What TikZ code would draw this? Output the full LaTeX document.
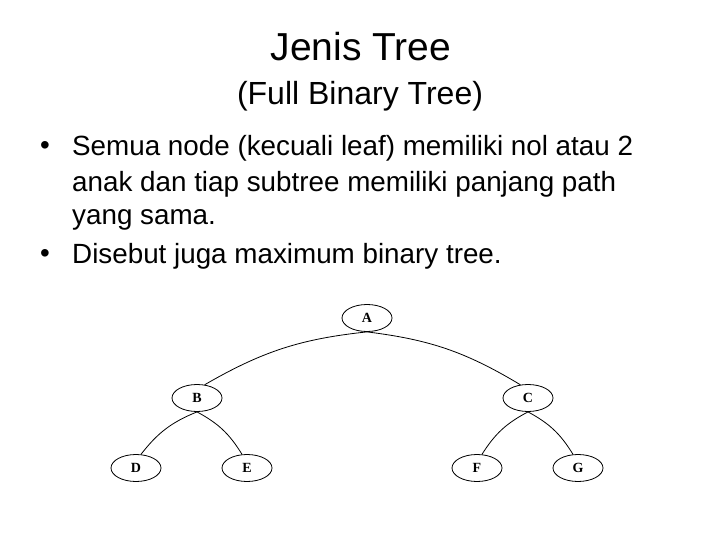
\documentclass[tikz,border=0pt]{standalone}
\usepackage{fontspec}
\setmainfont{Liberation Sans}
\newfontfamily\treefont{Liberation Serif}
\usetikzlibrary{shapes.geometric}
\begin{document}
\begin{tikzpicture}[x=1pt,y=-1pt,
  tn/.style={draw,ellipse,minimum width=50pt,minimum height=27pt,inner sep=0pt,font=\treefont\bfseries\fontsize{14}{16}\selectfont,line width=0.8pt},
  ed/.style={line width=0.8pt},
  txt/.style={anchor=west,inner sep=0pt,font=\fontsize{27.8}{32}\selectfont}]
\fill[white] (0,0) rectangle (720,540);
\useasboundingbox (0,0) rectangle (720,540);
\node[inner sep=0pt,font=\fontsize{39}{44}\selectfont] (title) at (361,47) {Jenis Tree};
\node[inner sep=0pt,font=\fontsize{32}{36}\selectfont] (sub) at (360,96) {(Full Binary Tree)};
\node[txt] (b1) at (40,148) {•};
\node[txt] (l1) at (72,148) {Semua node (kecuali leaf) memiliki nol atau 2};
\node[txt] (l2) at (72,184) {anak dan tiap subtree memiliki panjang path};
\node[txt] (l3) at (72,220) {yang sama.};
\node[txt] (b2) at (40,256) {•};
\node[txt] (l4) at (72,256) {Disebut juga maximum binary tree.};
\node[tn] (A) at (367,318) {A};
\node[tn] (B) at (197,398) {B};
\node[tn] (C) at (528,398) {C};
\node[tn] (D) at (136,468) {D};
\node[tn] (E) at (247,468) {E};
\node[tn] (F) at (477,468) {F};
\node[tn] (G) at (578,468) {G};
\draw[ed] (A.south) to[bend right=12] (B.60);
\draw[ed] (A.south) to[bend left=12] (C.120);
\draw[ed] (B.south) to[bend right=15] (D.70);
\draw[ed] (B.south) to[bend left=15] (E.110);
\draw[ed] (C.south) to[bend right=15] (F.70);
\draw[ed] (C.south) to[bend left=15] (G.110);
\end{tikzpicture}
\end{document}
